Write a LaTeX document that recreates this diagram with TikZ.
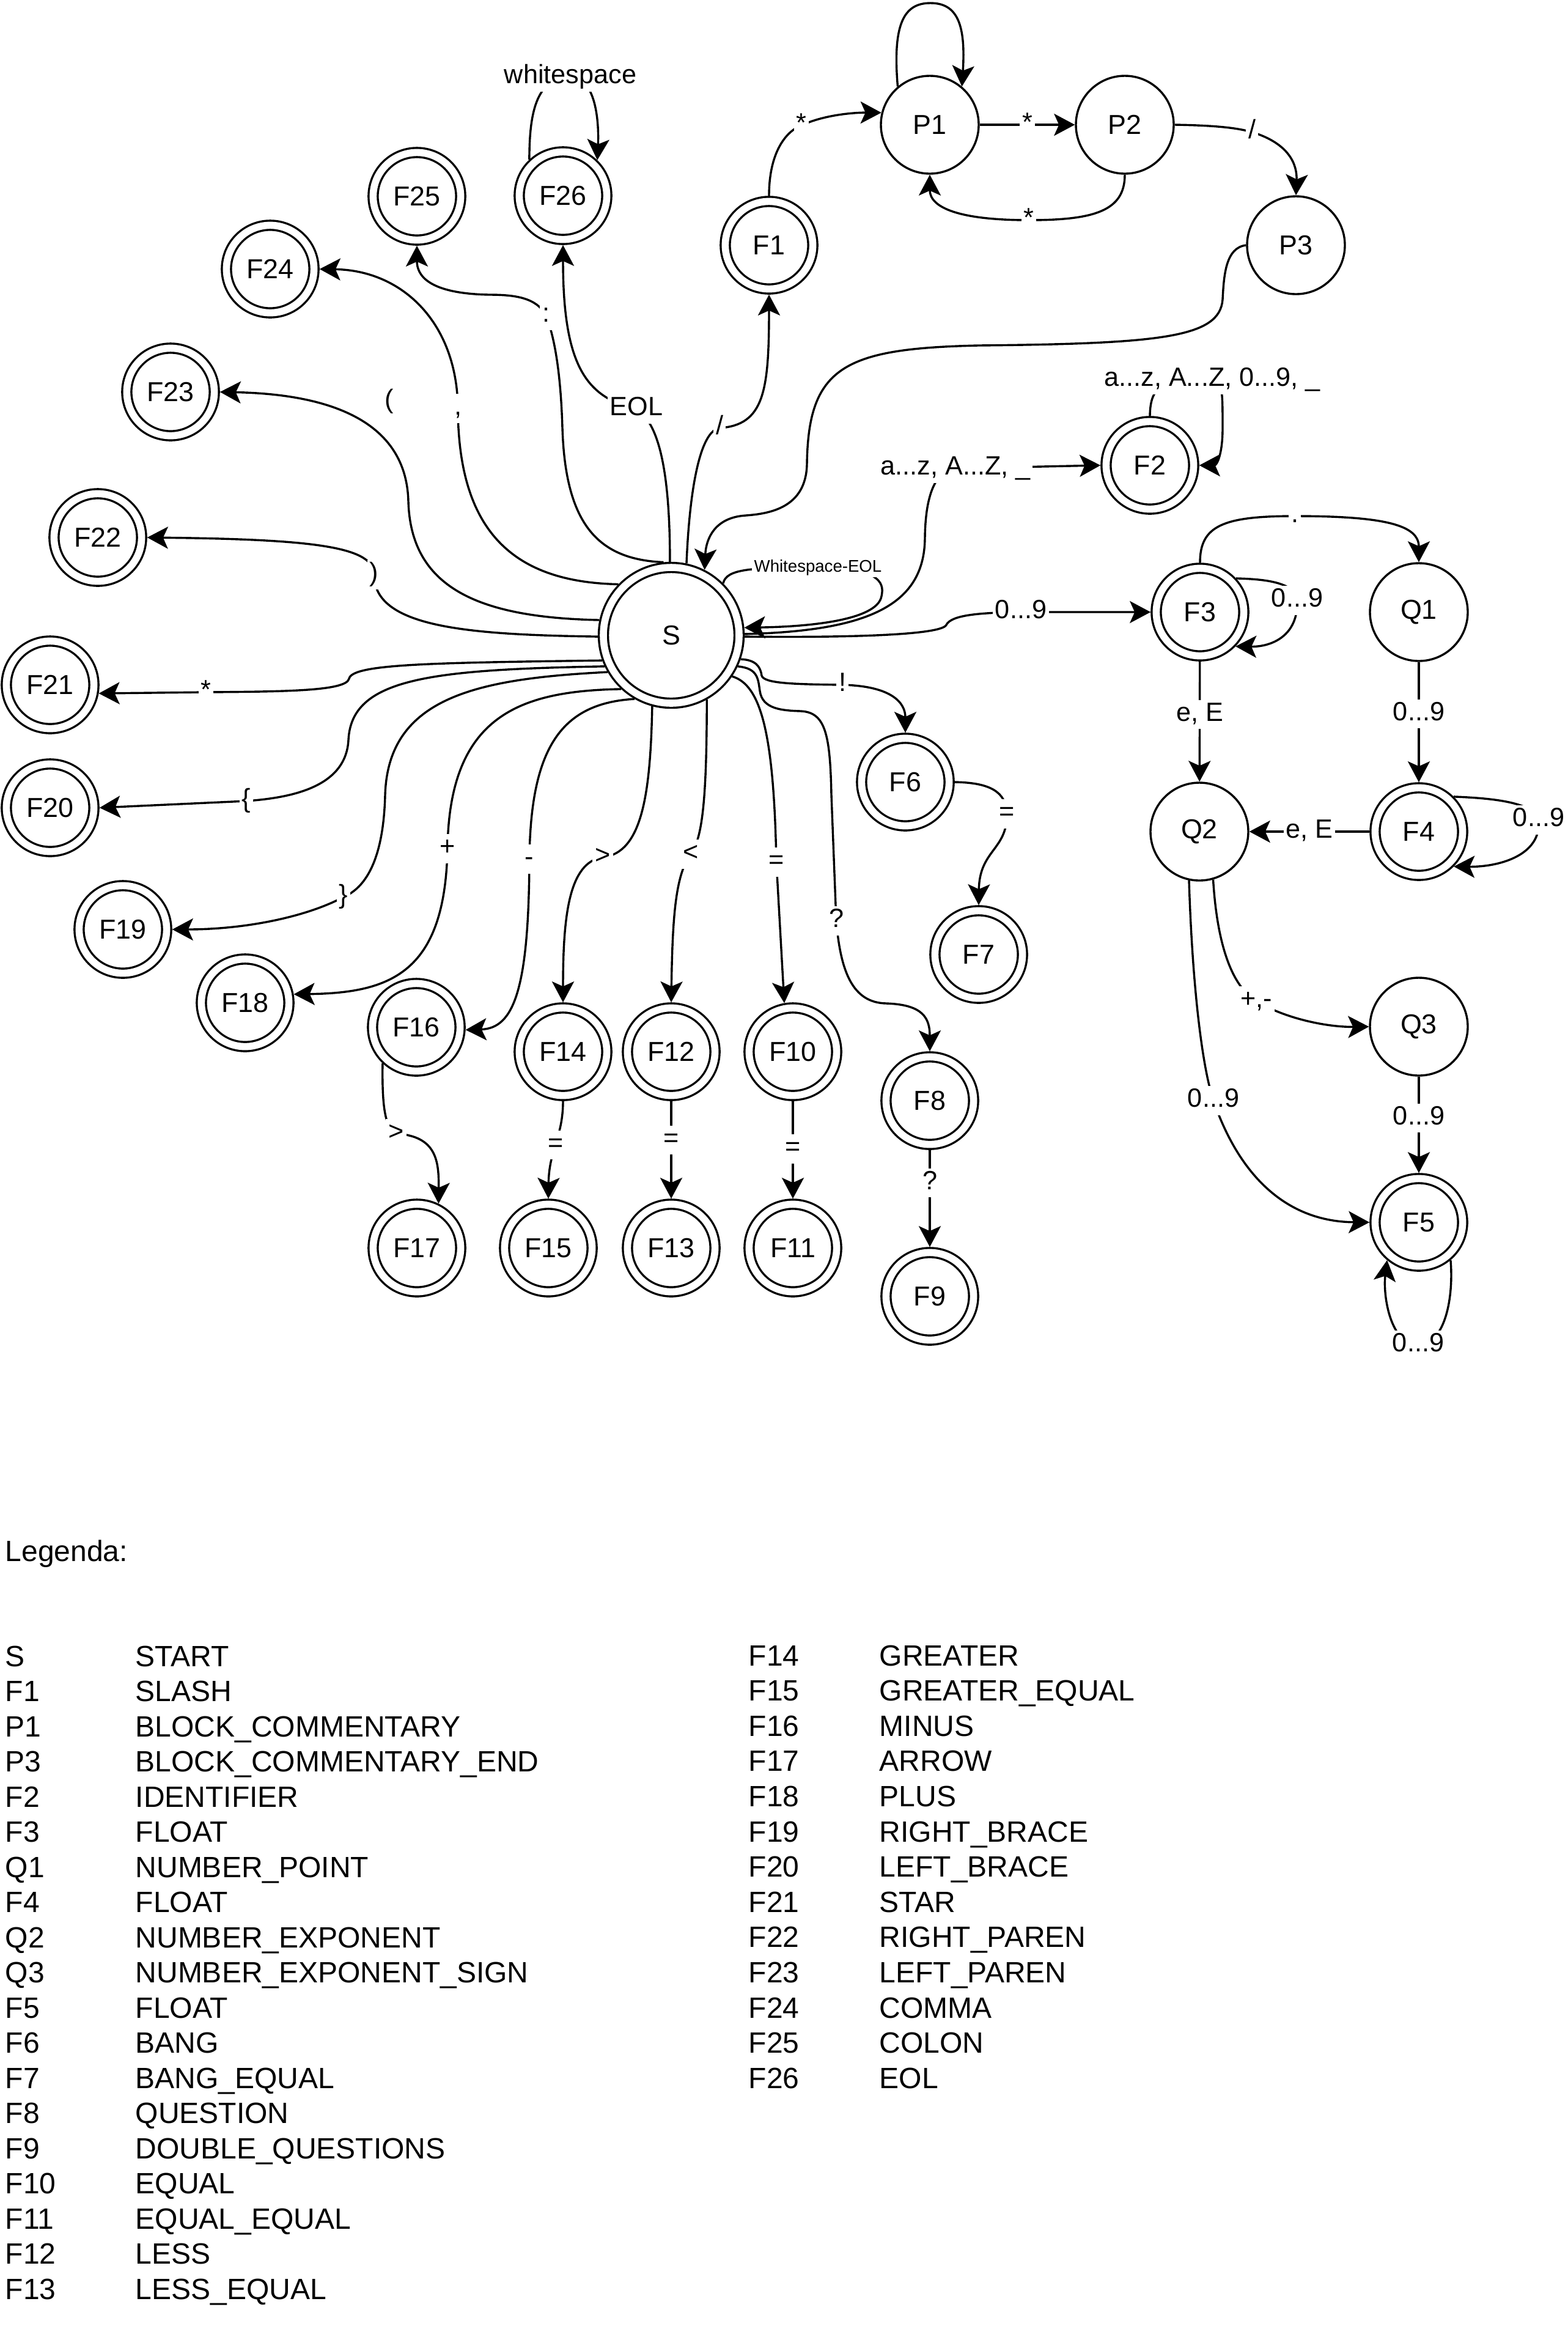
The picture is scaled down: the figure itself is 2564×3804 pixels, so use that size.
\documentclass[tikz,border=0pt]{standalone}
\usepackage{fontspec}
\setmainfont{Liberation Sans}
\usetikzlibrary{arrows.meta}

\begin{document}
\begin{tikzpicture}[x=0.25pt, y=-0.25pt, line width=0.85pt,
		>={Stealth[length=8.5pt, width=9pt, inset=2pt]},
		state/.style = {draw, circle, minimum size=40pt, inner sep=0pt, font=\fontsize{11.2}{13}\selectfont},
		final/.style = {state, double, double distance=2.9pt, minimum size=35.8pt, outer sep=2.3pt},
		startstate/.style = {final, minimum size=55.5pt},
		lbl/.style = {fill=white, inner xsep=1pt, inner ysep=0.5pt, text height=8.1pt, text depth=2.7pt, font=\fontsize{10.8}{12}\selectfont},
		smalllbl/.style = {lbl, text height=5.2pt, text depth=1.7pt, font=\fontsize{6.9}{8}\selectfont},
		key/.style = {anchor=base west, inner sep=0pt, font=\fontsize{12}{14}\selectfont}]
		\useasboundingbox (0,0) rectangle (2564,3804);

		\node[startstate] (S) at (1098,1039) {S};
		\node[final] (F1) at (1258,401) {F1};
		\node[state] (P1) at (1521,204) {P1};
		\node[state] (P2) at (1840,204) {P2};
		\node[state] (P3) at (2120,401) {P3};
		\node[final] (F2) at (1881,761) {F2};
		\node[final] (F3) at (1963,1001) {F3};
		\node[state] (Q1) at (2321,1001) {Q1};
		\node[state] (Q2) at (1962,1360) {Q2};
		\node[final] (F4) at (2321,1360) {F4};
		\node[state] (Q3) at (2321,1679) {Q3};
		\node[final] (F5) at (2321,1999) {F5};
		\node[final] (F6) at (1481,1279) {F6};
		\node[final] (F7) at (1601,1561) {F7};
		\node[final] (F8) at (1521,1800) {F8};
		\node[final] (F9) at (1521,2120) {F9};
		\node[final] (F10) at (1297,1720) {F10};
		\node[final] (F11) at (1297,2041) {F11};
		\node[final] (F12) at (1098,1720) {F12};
		\node[final] (F13) at (1098,2041) {F13};
		\node[final] (F14) at (921,1720) {F14};
		\node[final] (F15) at (897,2041) {F15};
		\node[final] (F16) at (681,1680) {F16};
		\node[final] (F17) at (682,2041) {F17};
		\node[final] (F18) at (401,1640) {F18};
		\node[final] (F19) at (201,1520) {F19};
		\node[final] (F20) at (82,1321) {F20};
		\node[final] (F21) at (82,1120) {F21};
		\node[final] (F22) at (160,879) {F22};
		\node[final] (F23) at (279,641) {F23};
		\node[final] (F24) at (442,440) {F24};
		\node[final] (F25) at (682,321) {F25};
		\node[final] (F26) at (921,320) {F26};
		\node[lbl, fill=none] (lparen) at (637,657) {(};

		% edges leaving S upwards and to the left
		\draw[->] (S.91) .. controls (1096,760) and (1075,690) .. (1041,669) node[lbl] {EOL} .. controls (960,650) and (921,600) .. (F26.south);
		\draw[->] (S.96) .. controls (980,915) and (925,860) .. (920,700) .. controls (917,600) and (905,545) .. (893,516) node[lbl] {:} .. controls (878,486) and (840,482) .. (800,482) .. controls (700,480) and (682,450) .. (F25.south);
		\draw[->] (S.78) .. controls (1128,800) and (1145,705) .. (1177,700) node[lbl] {/} .. controls (1250,695) and (1258,640) .. (F1.south);
		\draw[->] (S.136) .. controls (840,952) and (750,870) .. (749,668) node[lbl] {,} .. controls (748,530) and (660,442) .. (F24.east);
		\draw[->] (S.168) .. controls (780,1010) and (672,960) .. (668,820) .. controls (665,700) and (560,645) .. (F23.east);
		\draw[->] (S.181) .. controls (760,1038) and (612,1025) .. (612,940) node[lbl] {)} .. controls (612,895) and (520,882) .. (F22.east);
		\draw[->] (S.200) .. controls (700,1084) and (576,1086) .. (571,1110) .. controls (566,1130) and (470,1131) .. (337,1132) node[lbl] {*} -- (F21.-10);
		\draw[->] (S.205) .. controls (700,1095) and (575,1110) .. (570,1210) .. controls (566,1290) and (470,1305) .. (403,1310) node[lbl] {\{} -- (F20.east);
		\draw[->] (S.210) .. controls (780,1110) and (635,1140) .. (630,1300) .. controls (627,1420) and (590,1455) .. (562,1467) node[lbl] {\}} .. controls (500,1500) and (400,1520) .. (F19.east);
		\draw[->] (S.227) .. controls (850,1130) and (735,1170) .. (732,1388) node[lbl] {+} .. controls (728,1590) and (640,1624) .. (F18.10);
		\draw[->] (S.240) .. controls (920,1150) and (868,1220) .. (866,1405) node[lbl] {-} .. controls (865,1620) and (840,1682) .. (F16.-3);
		\draw[->] (S.255) .. controls (1064,1300) and (1050,1395) .. (986,1402) node[lbl] {>} .. controls (930,1410) and (921,1500) .. (F14.north);
		\draw[->] (S.299) .. controls (1156,1300) and (1150,1370) .. (1130,1397) node[lbl] {<} .. controls (1105,1430) and (1100,1500) .. (F12.north);
		\draw[->] (S.326) .. controls (1245,1120) and (1266,1200) .. (1270,1410) node[lbl] {=} -- (F10.100);
		\draw[->] (S.335) .. controls (1240,1093) and (1240,1110) .. (1243,1130) .. controls (1247,1160) and (1280,1162) .. (1310,1163) .. controls (1350,1165) and (1358,1200) .. (1360,1300) -- (1368,1506) node[lbl] {?} .. controls (1375,1590) and (1395,1640) .. (1450,1641) .. controls (1510,1643) and (1521,1665) .. (F8.north);
		\draw[->] (S.341) .. controls (1236,1079) and (1244,1090) .. (1246,1105) .. controls (1250,1118) and (1300,1119) .. (1378,1120) node[lbl] {!} .. controls (1460,1122) and (1481,1150) .. (F6.north);

		% edges to the right of S
		\draw[->] (P3.west) .. controls (2005,405) and (2002,450) .. (2000,490) .. controls (1995,552) and (1900,562) .. (1600,565) .. controls (1380,570) and (1322,600) .. (1320,760) .. controls (1318,830) and (1260,840) .. (1220,843) .. controls (1170,846) and (1155,880) .. (S.63);
		\draw[->] (S.45) .. controls (1188,930) and (1230,928) .. (1338,928) node[smalllbl] {Whitespace-EOL} .. controls (1450,928) and (1445,960) .. (1442,975) .. controls (1435,1015) and (1320,1025) .. (S.6);
		\draw[->] (S.1) .. controls (1420,1032) and (1512,990) .. (1513,880) .. controls (1514,790) and (1540,768) .. (1563,766) node[lbl] {a...z, A...Z, \_} -- (F2.west);
		\draw[->] (S.-1) .. controls (1400,1043) and (1540,1038) .. (1548,1022) .. controls (1556,1006) and (1600,1002) .. (1670,1001) node[lbl] {0...9} -- (F3.west);

		% comments
		\draw[->] (F1.north) .. controls (1258,250) and (1285,215) .. (1311,205) node[lbl] {*} .. controls (1350,187) and (1400,184) .. (P1.166);
		\draw[->] (P1.130) .. controls (1460,40) and (1478,5) .. (1522,5) .. controls (1566,5) and (1580,40) .. (P1.50);
		\draw[->] (P1) -- node[lbl] {*} (P2);
		\draw[->] (P2.south) .. controls (1840,345) and (1790,360) .. (1683,360) node[lbl] {*} .. controls (1570,360) and (1521,340) .. (P1.south);
		\draw[->] (P2.east) .. controls (1980,205) and (2020,208) .. (2048,216) node[lbl] {/} .. controls (2110,235) and (2122,270) .. (P3.north);

		% identifier and numbers
		\draw[->] (F2.north) .. controls (1882,630) and (1900,621) .. (1983,621) node[lbl] {a...z, A...Z, 0...9, \_} .. controls (2000,621) and (2000,640) .. (2000,700) .. controls (2000,745) and (1990,761) .. (F2.east);
		\draw[->] (F3.north) .. controls (1963,860) and (2000,844) .. (2118,844) node[lbl] {.} .. controls (2270,844) and (2321,860) .. (Q1.north);
		\draw[->] (F3.43) .. controls (2060,947) and (2120,950) .. (2122,982) node[lbl] {0...9} .. controls (2124,1040) and (2080,1058) .. (F3.-44);
		\draw[->] (F3) -- node[lbl, pos=0.44] {e, E} (Q2);
		\draw[->] (Q1) -- node[lbl, pos=0.43] {0...9} (F4);
		\draw[->] (F4) -- node[lbl] {e, E} (Q2);
		\draw[->] (F4.45) .. controls (2430,1305) and (2510,1310) .. (2517,1341) node[lbl] {0...9} .. controls (2522,1400) and (2450,1418) .. (F4.-45);
		\draw[->] (Q2.-74) .. controls (1990,1530) and (2010,1610) .. (2055,1637) node[lbl] {+,-} .. controls (2100,1665) and (2170,1680) .. (Q3.west);
		\draw[->] (Q2.258) .. controls (1950,1600) and (1965,1740) .. (1985,1800) node[lbl] {0...9} .. controls (2030,1930) and (2110,1998) .. (F5.west);
		\draw[->] (Q3) -- node[lbl, pos=0.43] {0...9} (F5);
		\draw[->] (F5.-50) .. controls (2378,2120) and (2365,2198) .. (2320,2200) node[lbl] {0...9} .. controls (2275,2200) and (2262,2120) .. (F5.-130);

		% two character operators
		\draw[->] (F6.east) .. controls (1620,1280) and (1646,1295) .. (1647,1331) node[lbl] {=} .. controls (1648,1390) and (1602,1390) .. (F7.north);
		\draw[->] (F8) -- node[lbl, pos=0.34] {?} (F9);
		\draw[->] (F10) -- node[lbl, pos=0.49] {=} (F11);
		\draw[->] (F12) -- node[lbl, pos=0.4] {=} (F13);
		\draw[->] (F14.south) .. controls (921,1860) and (898,1880) .. node[lbl] {=} (F15.north);
		\draw[->] (F16.227) .. controls (625,1800) and (628,1845) .. (648,1854) node[lbl] {>} .. controls (715,1858) and (718,1900) .. (F17.64);
		\draw[->] (F26.133) .. controls (866,190) and (875,126) .. (933,126) node[lbl] {whitespace} .. controls (975,126) and (980,200) .. (F26.46);

		% legend
		\node[key] (legend) at (7,2553) {Legenda:};
		\foreach \st/\tok [count=\i from 0] in {S/START, F1/SLASH, P1/BLOCK\_COMMENTARY, P3/BLOCK\_COMMENTARY\_END, F2/IDENTIFIER, F3/FLOAT, Q1/NUMBER\_POINT, F4/FLOAT, Q2/NUMBER\_EXPONENT, Q3/NUMBER\_EXPONENT\_SIGN, F5/FLOAT, F6/BANG, F7/BANG\_EQUAL, F8/QUESTION, F9/DOUBLE\_QUESTIONS, F10/EQUAL, F11/EQUAL\_EQUAL, F12/LESS, F13/LESS\_EQUAL}
		{
			\node[key] (ks\i) at (7,{2725+57.5*\i}) {\st};
			\node[key] (kt\i) at (220,{2725+57.5*\i}) {\tok};
		}
		\foreach \st/\tok [count=\i from 0] in {F14/GREATER, F15/GREATER\_EQUAL, F16/MINUS, F17/ARROW, F18/PLUS, F19/RIGHT\_BRACE, F20/LEFT\_BRACE, F21/STAR, F22/RIGHT\_PAREN, F23/LEFT\_PAREN, F24/COMMA, F25/COLON, F26/EOL}
		{
			\node[key] (rs\i) at (1223,{2724+57.6*\i}) {\st};
			\node[key] (rt\i) at (1437,{2724+57.6*\i}) {\tok};
		}

	\end{tikzpicture}
\end{document}
